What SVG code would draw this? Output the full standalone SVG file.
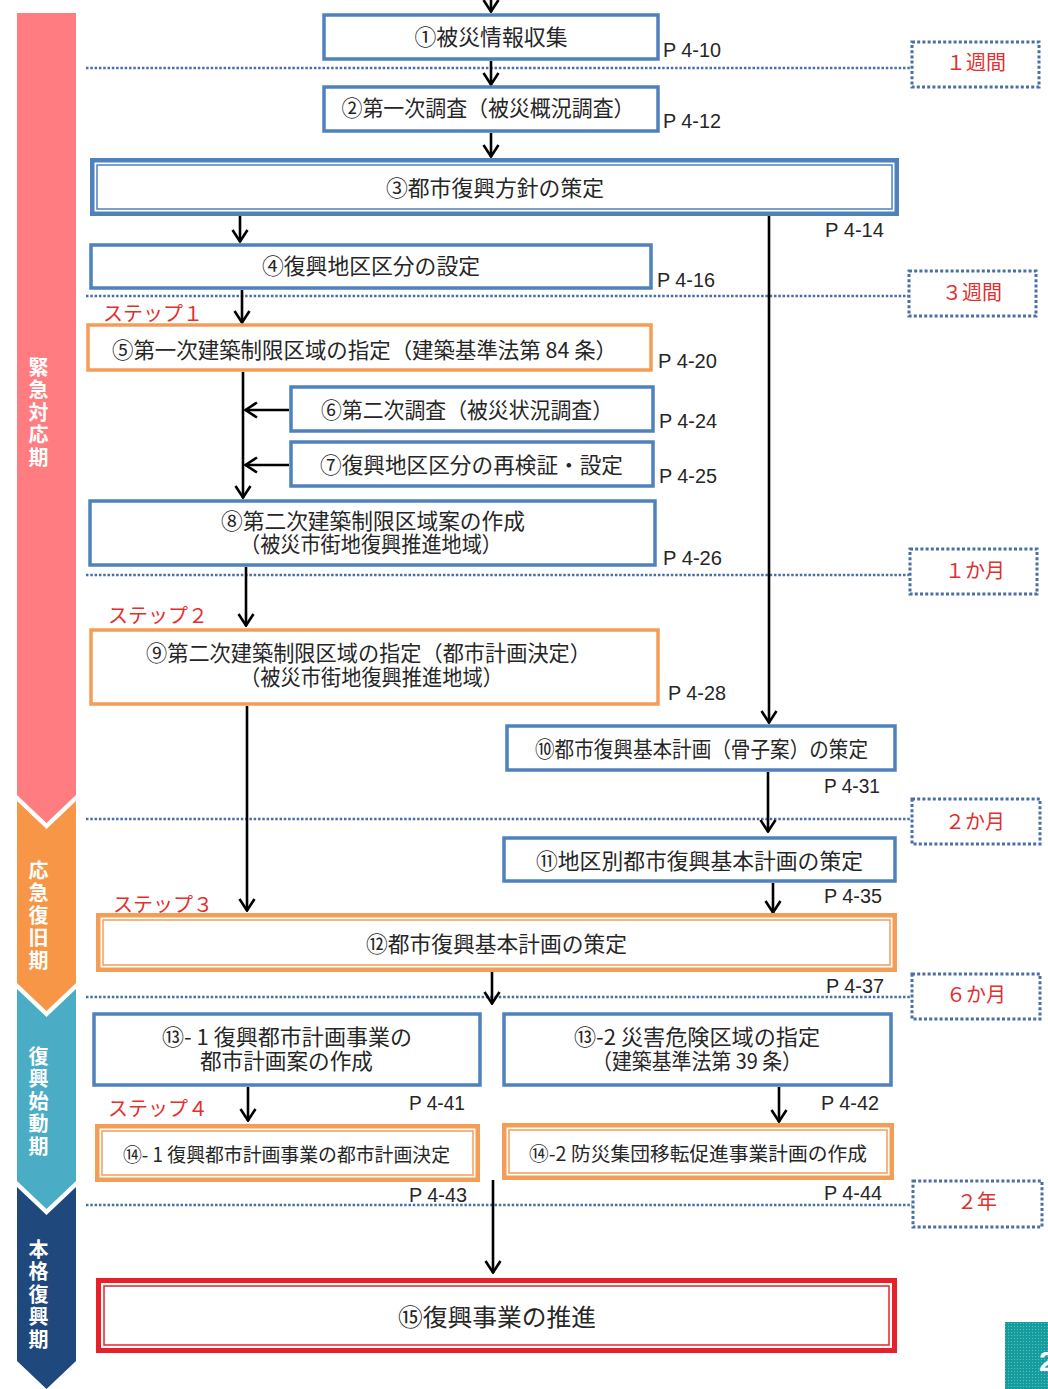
<svg xmlns="http://www.w3.org/2000/svg" width="1048" height="1389" viewBox="0 0 1048 1389">
<style>
.bb{fill:#fff;stroke:#4F81BD;stroke-width:3.5}
.ob{fill:#fff;stroke:#F59D56;stroke-width:3.5}
.bo{fill:#fff;stroke:#4F81BD;stroke-width:4.5}
.bi{fill:none;stroke:#4F81BD;stroke-width:1.5}
.oo{fill:#fff;stroke:#F59D56;stroke-width:4.5}
.oi{fill:none;stroke:#F59D56;stroke-width:1.5}
.ro{fill:#fff;stroke:#E8202A;stroke-width:5}
.ri{fill:none;stroke:#E8202A;stroke-width:1.5}
.t{font-family:"Noto Sans CJK JP",sans-serif;font-size:21.5px;fill:#262626;text-anchor:middle}
.p{font-family:"Liberation Sans Narrow","Liberation Sans",sans-serif;font-size:20.5px;fill:#262626}
.st{font-family:"Noto Sans CJK JP",sans-serif;font-size:20px;fill:#E62E2E}
.tm{font-family:"Noto Sans CJK JP",sans-serif;font-size:20px;fill:#E03030;text-anchor:middle}
.tb{fill:#fff;stroke:#4A6FA5;stroke-width:3;stroke-dasharray:3 2.2}
.dl{stroke:#4A6FA5;stroke-width:2.5;stroke-dasharray:2.5 1.8;fill:none}
.band{font-family:"Noto Sans CJK JP",sans-serif;font-size:20px;font-weight:700;fill:#fff;writing-mode:vertical-rl;letter-spacing:2.5px}
.c{stroke:#000;stroke-width:2.6;fill:none}
</style>
<defs>
<marker id="ah" viewBox="0 0 14 18" refX="13" refY="9" markerWidth="14" markerHeight="18" orient="auto" markerUnits="userSpaceOnUse">
<path d="M1,1.5 L12.5,9 L1,16.5" fill="none" stroke="#000" stroke-width="2.6"/>
</marker>
<pattern id="dots" width="3" height="3" patternUnits="userSpaceOnUse">
<rect width="3" height="3" fill="#169C9C"/>
<rect width="1" height="1" fill="#5CC2C2"/>
</pattern>
</defs>

<g id="phase-band">
<path d="M17,13 H76 V795 L46.5,823 L17,795 Z" fill="#FF7C80"/>
<path d="M17,801 L46.5,829 L76,801 V983 L46.5,1011 L17,983 Z" fill="#F79646"/>
<path d="M17,989 L46.5,1017 L76,989 V1181 L46.5,1209 L17,1181 Z" fill="#4BACC6"/>
<path d="M17,1187 L46.5,1215 L76,1187 V1361 L46.5,1389 L17,1361 Z" fill="#1F497D"/>
<text class="band" x="38.5" y="357">緊急対応期</text>
<text class="band" x="38.5" y="860">応急復旧期</text>
<text class="band" x="38.5" y="1046">復興始動期</text>
<text class="band" x="38.5" y="1239">本格復興期</text>
</g>

<g id="timeline">
<line class="dl" x1="86" y1="68" x2="911" y2="68"/>
<line class="dl" x1="86" y1="296" x2="908" y2="296"/>
<line class="dl" x1="86" y1="575" x2="909" y2="575"/>
<line class="dl" x1="86" y1="819" x2="911" y2="819"/>
<line class="dl" x1="86" y1="997" x2="911" y2="997"/>
<line class="dl" x1="86" y1="1205" x2="912" y2="1205"/>
</g>

<g id="t1"><rect class="tb" x="912" y="42" width="127" height="45"/><text class="tm" x="976" y="70">１週間</text></g>
<g id="t2"><rect class="tb" x="909" y="271" width="127" height="45"/><text class="tm" x="972" y="300">３週間</text></g>
<g id="t3"><rect class="tb" x="910" y="549" width="127" height="45"/><text class="tm" x="975" y="578">１か月</text></g>
<g id="t4"><rect class="tb" x="912" y="799" width="128" height="45"/><text class="tm" x="975" y="829">２か月</text></g>
<g id="t5"><rect class="tb" x="912" y="974" width="128" height="45"/><text class="tm" x="976" y="1002">６か月</text></g>
<g id="t6"><rect class="tb" x="913" y="1181" width="129" height="46"/><text class="tm" x="977" y="1209">２年</text></g>

<g id="connectors">
<line class="c" x1="491" y1="-6" x2="491" y2="12" marker-end="url(#ah)"/>
<line class="c" x1="491" y1="61" x2="491" y2="85" marker-end="url(#ah)"/>
<line class="c" x1="491" y1="133" x2="491" y2="157" marker-end="url(#ah)"/>
<line class="c" x1="240" y1="216" x2="240" y2="242" marker-end="url(#ah)"/>
<line class="c" x1="769" y1="216" x2="769" y2="723" marker-end="url(#ah)"/>
<line class="c" x1="242" y1="290" x2="242" y2="323" marker-end="url(#ah)"/>
<line class="c" x1="243" y1="372" x2="243" y2="498" marker-end="url(#ah)"/>
<line class="c" x1="289" y1="410" x2="245" y2="410" marker-end="url(#ah)"/>
<line class="c" x1="289" y1="465" x2="245" y2="465" marker-end="url(#ah)"/>
<line class="c" x1="246" y1="567" x2="246" y2="626" marker-end="url(#ah)"/>
<line class="c" x1="247" y1="706" x2="247" y2="911" marker-end="url(#ah)"/>
<line class="c" x1="768" y1="772" x2="768" y2="832" marker-end="url(#ah)"/>
<line class="c" x1="773" y1="883" x2="773" y2="913" marker-end="url(#ah)"/>
<line class="c" x1="492" y1="972" x2="492" y2="1004" marker-end="url(#ah)"/>
<line class="c" x1="248" y1="1087" x2="248" y2="1121" marker-end="url(#ah)"/>
<line class="c" x1="779" y1="1087" x2="779" y2="1122" marker-end="url(#ah)"/>
<line class="c" x1="493" y1="1180" x2="493" y2="1273" marker-end="url(#ah)"/>
</g>

<g id="n1"><rect class="bb" x="324" y="15" width="334" height="44"/><text class="t" x="491" y="45" textLength="153" lengthAdjust="spacingAndGlyphs">①被災情報収集</text><text class="p" x="663" y="57" textLength="58" lengthAdjust="spacingAndGlyphs">P 4-10</text></g>
<g id="n2"><rect class="bb" x="324" y="87" width="334" height="44"/><text class="t" x="488" y="116" textLength="293" lengthAdjust="spacingAndGlyphs">②第一次調査（被災概況調査）</text><text class="p" x="663" y="128" textLength="58" lengthAdjust="spacingAndGlyphs">P 4-12</text></g>
<g id="n3"><rect class="bo" x="92.25" y="160.25" width="804.5" height="53.5"/><rect class="bi" x="97" y="165" width="795" height="44"/><text class="t" x="495" y="196" textLength="218" lengthAdjust="spacingAndGlyphs">③都市復興方針の策定</text><text class="p" x="825" y="237" textLength="59" lengthAdjust="spacingAndGlyphs">P 4-14</text></g>
<g id="n4"><rect class="bb" x="91" y="245" width="560" height="43"/><text class="t" x="371" y="274" textLength="218" lengthAdjust="spacingAndGlyphs">④復興地区区分の設定</text><text class="p" x="657" y="287" textLength="58" lengthAdjust="spacingAndGlyphs">P 4-16</text></g>
<text class="st" x="103" y="321">ステップ１</text>
<g id="n5"><rect class="ob" x="88" y="325" width="563" height="45"/><text class="t" x="364.5" y="358" textLength="505" lengthAdjust="spacingAndGlyphs">⑤第一次建築制限区域の指定（建築基準法第 84 条）</text><text class="p" x="658" y="368" textLength="59" lengthAdjust="spacingAndGlyphs">P 4-20</text></g>
<g id="n6"><rect class="bb" x="291" y="387" width="362" height="44"/><text class="t" x="467" y="418" textLength="292" lengthAdjust="spacingAndGlyphs">⑥第二次調査（被災状況調査）</text><text class="p" x="659" y="428" textLength="58" lengthAdjust="spacingAndGlyphs">P 4-24</text></g>
<g id="n7"><rect class="bb" x="291" y="442" width="362" height="44"/><text class="t" x="471.5" y="473" textLength="303" lengthAdjust="spacingAndGlyphs">⑦復興地区区分の再検証・設定</text><text class="p" x="659" y="483" textLength="58" lengthAdjust="spacingAndGlyphs">P 4-25</text></g>
<g id="n8"><rect class="bb" x="90" y="501" width="565" height="64"/><text class="t" x="373" y="529" textLength="304" lengthAdjust="spacingAndGlyphs">⑧第二次建築制限区域案の作成</text><text class="t" x="371" y="552" textLength="262" lengthAdjust="spacingAndGlyphs">（被災市街地復興推進地域）</text><text class="p" x="663" y="565" textLength="59" lengthAdjust="spacingAndGlyphs">P 4-26</text></g>
<text class="st" x="108" y="623">ステップ２</text>
<g id="n9"><rect class="ob" x="91" y="630" width="567" height="74"/><text class="t" x="368.5" y="661" textLength="445" lengthAdjust="spacingAndGlyphs">⑨第二次建築制限区域の指定（都市計画決定）</text><text class="t" x="371.5" y="685" textLength="263" lengthAdjust="spacingAndGlyphs">（被災市街地復興推進地域）</text><text class="p" x="668" y="700" textLength="58" lengthAdjust="spacingAndGlyphs">P 4-28</text></g>
<g id="n10"><rect class="bb" x="507" y="726" width="388" height="44"/><text class="t" x="701.5" y="757" textLength="333" lengthAdjust="spacingAndGlyphs">⑩都市復興基本計画（骨子案）の策定</text><text class="p" x="824" y="793" textLength="56" lengthAdjust="spacingAndGlyphs">P 4-31</text></g>
<g id="n11"><rect class="bb" x="504" y="838" width="391" height="43"/><text class="t" x="699.5" y="869" textLength="327" lengthAdjust="spacingAndGlyphs">⑪地区別都市復興基本計画の策定</text><text class="p" x="824" y="903" textLength="58" lengthAdjust="spacingAndGlyphs">P 4-35</text></g>
<text class="st" x="113" y="912">ステップ３</text>
<g id="n12"><rect class="oo" x="98.25" y="915.25" width="796.5" height="54.5"/><rect class="oi" x="103" y="920" width="787" height="45"/><text class="t" x="496.5" y="952" textLength="261" lengthAdjust="spacingAndGlyphs">⑫都市復興基本計画の策定</text><text class="p" x="826" y="993" textLength="58" lengthAdjust="spacingAndGlyphs">P 4-37</text></g>
<g id="n13-1"><rect class="bb" x="94" y="1014" width="386" height="71"/><text class="t" x="287" y="1045" textLength="250" lengthAdjust="spacingAndGlyphs">⑬- 1 復興都市計画事業の</text><text class="t" x="286.5" y="1069" textLength="173" lengthAdjust="spacingAndGlyphs">都市計画案の作成</text><text class="p" x="409" y="1110" textLength="56" lengthAdjust="spacingAndGlyphs">P 4-41</text></g>
<g id="n13-2"><rect class="bb" x="504" y="1014" width="387" height="71"/><text class="t" x="697" y="1045" textLength="246" lengthAdjust="spacingAndGlyphs">⑬-2 災害危険区域の指定</text><text class="t" x="697" y="1069" textLength="210" lengthAdjust="spacingAndGlyphs">（建築基準法第 39 条）</text><text class="p" x="821" y="1110" textLength="58" lengthAdjust="spacingAndGlyphs">P 4-42</text></g>
<text class="st" x="108" y="1116">ステップ４</text>
<g id="n14-1"><rect class="oo" x="97.25" y="1126.25" width="380.5" height="53.5"/><rect class="oi" x="102" y="1131" width="371" height="44"/><text class="t" x="286.5" y="1162" style="font-size:19.5px" textLength="327" lengthAdjust="spacingAndGlyphs">⑭- 1 復興都市計画事業の都市計画決定</text><text class="p" x="409" y="1202" textLength="58" lengthAdjust="spacingAndGlyphs">P 4-43</text></g>
<g id="n14-2"><rect class="oo" x="504.25" y="1125.25" width="387.5" height="52.5"/><rect class="oi" x="509" y="1130" width="378" height="43"/><text class="t" x="698" y="1161" style="font-size:19.5px" textLength="338" lengthAdjust="spacingAndGlyphs">⑭-2 防災集団移転促進事業計画の作成</text><text class="p" x="824" y="1200" textLength="58" lengthAdjust="spacingAndGlyphs">P 4-44</text></g>
<g id="n15"><rect class="ro" x="98.5" y="1280.5" width="796" height="70"/><rect class="ri" x="104" y="1286" width="785" height="59"/><text class="t" x="497" y="1326" style="font-size:24px" textLength="198" lengthAdjust="spacingAndGlyphs">⑮復興事業の推進</text></g>

<g id="page-tab"><rect x="1005" y="1322" width="43" height="67" fill="url(#dots)"/><text x="1039" y="1371" style="font-family:'Liberation Sans',sans-serif;font-size:28px;font-weight:700;fill:#fff">2</text></g>
</svg>
